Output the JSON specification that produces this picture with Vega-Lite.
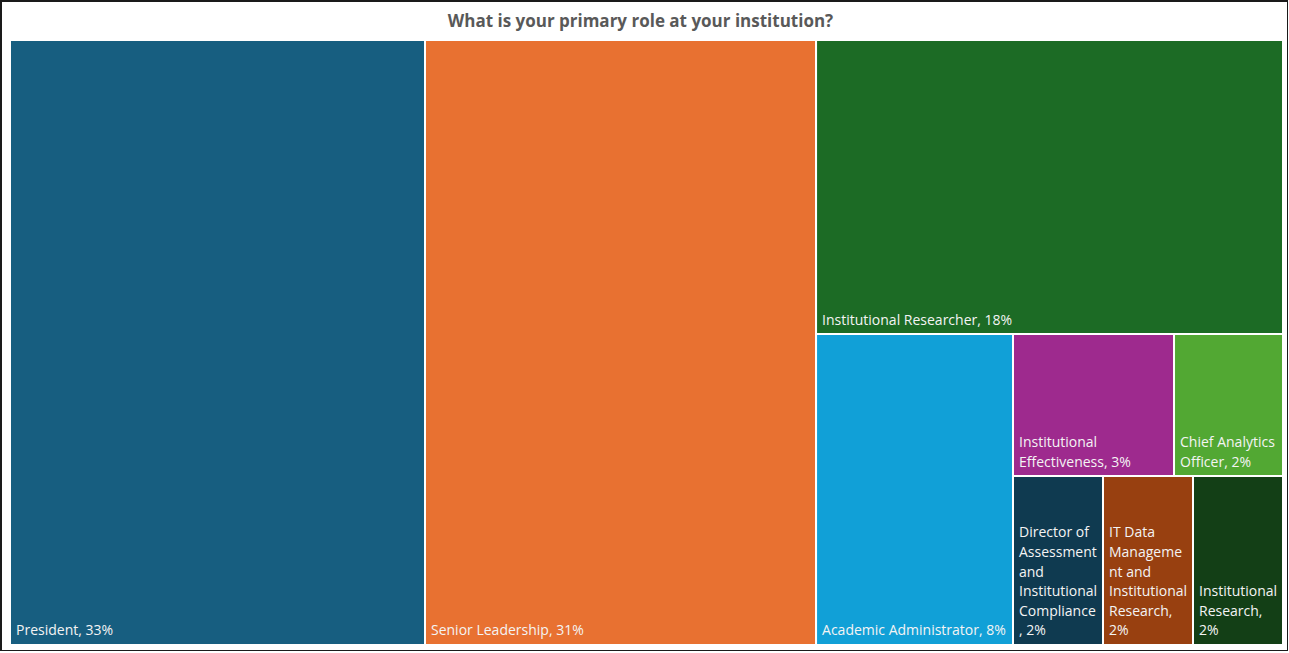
{
  "$schema": "https://vega.github.io/schema/vega-lite/v6.json",
  "autosize": {"type": "none"},
  "padding": {"left": 1, "top": 1, "right": 0, "bottom": 0},
  "width": 1287,
  "height": 650,
  "background": "white",
  "title": {
    "text": "What is your primary role at your institution?",
    "font": "Open Sans",
    "fontSize": 17,
    "fontWeight": "bold",
    "color": "#595959",
    "anchor": "middle",
    "baseline": "alphabetic",
    "offset": -25,
    "dy": 18,
    "dx": -4
  },
  "config": {"view": {"stroke": "#1a1a1a", "strokeWidth": 2}},
  "data": {
    "values": [
      {"role": "President", "pct": 33, "x0": 0, "x1": 32.60, "y0": 0, "y1": 100, "label": ["President, 33%"]},
      {"role": "Senior Leadership", "pct": 31, "x0": 32.60, "x1": 63.32, "y0": 0, "y1": 100, "label": ["Senior Leadership, 31%"]},
      {"role": "Institutional Researcher", "pct": 18, "x0": 63.32, "x1": 100, "y0": 0, "y1": 48.6, "label": ["Institutional Researcher, 18%"]},
      {"role": "Academic Administrator", "pct": 8, "x0": 63.32, "x1": 78.79, "y0": 48.6, "y1": 100, "label": ["Academic Administrator, 8%"]},
      {"role": "Institutional Effectiveness", "pct": 3, "x0": 78.79, "x1": 91.44, "y0": 48.6, "y1": 72.07, "label": ["Effectiveness, 3%", "Institutional"]},
      {"role": "Chief Analytics Officer", "pct": 2, "x0": 91.44, "x1": 100, "y0": 48.6, "y1": 72.07, "label": ["Officer, 2%", "Chief Analytics"]},
      {"role": "Director of Assessment and Institutional Compliance", "pct": 2, "x0": 78.79, "x1": 85.86, "y0": 72.07, "y1": 100, "label": [", 2%", "Compliance", "Institutional", "and", "Assessment", "Director of"]},
      {"role": "IT Data Management and Institutional Research", "pct": 2, "x0": 85.86, "x1": 92.93, "y0": 72.07, "y1": 100, "label": ["2%", "Research,", "Institutional", "nt and", "Manageme", "IT Data"]},
      {"role": "Institutional Research", "pct": 2, "x0": 92.93, "x1": 100, "y0": 72.07, "y1": 100, "label": ["2%", "Research,", "Institutional"]}
    ]
  },
  "encoding": {
    "x": {"field": "x0", "type": "quantitative", "scale": {"domain": [-0.707, 100.393], "nice": false, "zero": false}, "axis": null},
    "y": {"field": "y0", "type": "quantitative", "scale": {"domain": [-6.446, 100.992], "nice": false, "zero": false, "reverse": true}, "axis": null}
  },
  "layer": [
    {
      "mark": {"type": "rect", "stroke": "white", "strokeWidth": 2},
      "encoding": {
        "x2": {"field": "x1"},
        "y2": {"field": "y1"},
        "color": {
          "field": "role",
          "type": "nominal",
          "legend": null,
          "scale": {
            "domain": ["President", "Senior Leadership", "Institutional Researcher", "Academic Administrator", "Institutional Effectiveness", "Chief Analytics Officer", "Director of Assessment and Institutional Compliance", "IT Data Management and Institutional Research", "Institutional Research"],
            "range": ["#175E80", "#E87131", "#1C6B25", "#11A0D7", "#9E2A8E", "#52A833", "#0F3A50", "#984010", "#133F16"]
          }
        }
      }
    },
    {
      "mark": {"type": "text", "align": "left", "baseline": "bottom", "dx": 6, "dy": -6.5, "font": "Open Sans", "fontSize": 14, "lineHeight": -19.6, "color": "#f4f4f4"},
      "encoding": {
        "y": {"field": "y1", "type": "quantitative"},
        "text": {"field": "label"}
      }
    }
  ]
}
